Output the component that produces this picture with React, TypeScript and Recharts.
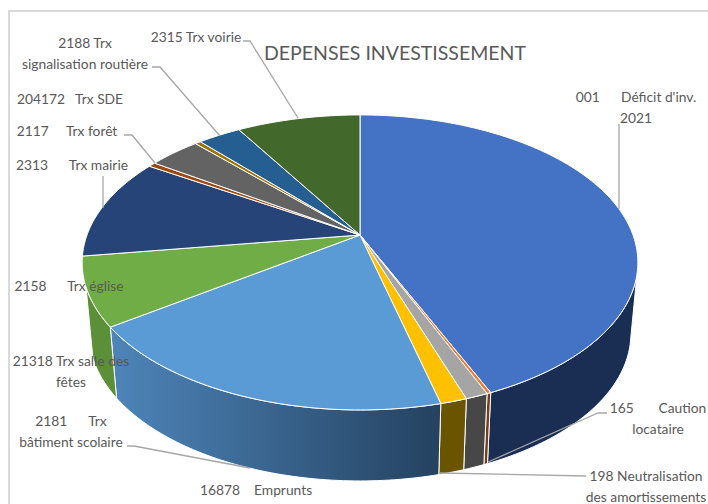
import { Pie, PieChart } from "recharts";

// slices clockwise from 12 o'clock, values in % of total
const NAMES = [
  "001 Déficit d'inv. 2021",
  "165 Caution locataire",
  "198 Neutralisation des amortissements",
  "16878 Emprunts",
  "2181 Trx bâtiment scolaire",
  "21318 Trx salle des fêtes",
  "2158 Trx église",
  "2313 Trx mairie",
  "2117 Trx forêt",
  "204172 Trx SDE",
  "2188 Trx signalisation routière",
  "2315 Trx voirie",
];
const VALUES = [43.5, 0.2, 1.1, 1.3, 19.1, 7.5, 11.2, 0.5, 3.6, 0.4, 3.0, 8.6];
const COLORS = [
  "#4472C4", "#ED7D31", "#A5A5A5", "#FFC000", "#5B9BD5", "#70AD47",
  "#264478", "#9E480E", "#636363", "#997300", "#255E91", "#43682B",
];
const WALL_FROM = [
  "#1A2D52", "#7A3D12", "#474747", "#6B5400", "#4E85BA", "#5C9038",
  "#1C3259", "#74350A", "#474747", "#6B5400", "#1B4569", "#304B1F",
];
const WALL_TO = [
  "#1A2D52", "#7A3D12", "#474747", "#6B5400", "#244260", "#5C9038",
  "#1C3259", "#74350A", "#474747", "#6B5400", "#1B4569", "#304B1F",
];

const LABEL_LINES = [
  ["001\u00a0\u00a0\u00a0\u00a0\u00a0\u00a0Déficit d'inv.", "2021"],
  ["165\u00a0\u00a0\u00a0\u00a0\u00a0\u00a0\u00a0Caution", "locataire"],
  ["198 Neutralisation", "des amortissements"],
  ["16878\u00a0\u00a0\u00a0\u00a0Emprunts"],
  ["2181\u00a0\u00a0\u00a0\u00a0\u00a0\u00a0Trx", "bâtiment scolaire"],
  ["21318 Trx salle des", "fêtes"],
  ["2158\u00a0\u00a0\u00a0\u00a0\u00a0\u00a0Trx église"],
  ["2313\u00a0\u00a0\u00a0\u00a0\u00a0\u00a0Trx mairie"],
  ["2117\u00a0\u00a0\u00a0\u00a0\u00a0Trx forêt"],
  ["204172\u00a0\u00a0\u00a0Trx SDE"],
  ["2188 Trx", "signalisation routière"],
  ["2315 Trx voirie"],
];
const LABEL_X = [636, 658, 646, 256, 71, 71, 69, 72, 67, 70, 85, 196];
const LABEL_Y = [102, 413, 481, 495, 426, 366, 291, 170, 136, 104, 48, 42];
const LEADERS = [
  "619,124 619,209",
  "607,413 598,413 488,462",
  "586,476 440,473",
  "",
  "127,446 134,446 250,468",
  "",
  "",
  "103,176 103,208",
  "124,135 132,135 155,163",
  "",
  "152,67 160,67 220,136",
  "243,41 250,41 298,118",
];

const data = NAMES.map((name, i) => ({ name, value: VALUES[i], fill: COLORS[i] }));

const TILT = 0.5216;
const PERSPECTIVE = 0.186;
const DEPTH = 71;
const BOTTOM_SCALE = 0.975;
const FRONT_FROM = -160;
const FRONT_TO = -15;
const FONT = "Lato, 'Open Sans', sans-serif";

function rim(cx: number, cy: number, r: number, deg: number) {
  const a = (deg * Math.PI) / 180;
  const w = 1 + PERSPECTIVE * Math.sin(a);
  return [cx + (r * Math.cos(a)) / w, cy - (r * TILT * Math.sin(a)) / w];
}

function sweep(from: number, to: number) {
  const out: number[] = [];
  const n = Math.max(1, Math.ceil(Math.abs(to - from)));
  for (let i = 0; i <= n; i++) out.push(from + ((to - from) * i) / n);
  return out;
}

function Slice3D(props: any) {
  const { cx, cy, outerRadius, startAngle, endAngle, fill, index } = props;
  const hi = Math.max(startAngle, endAngle);
  const lo = Math.min(startAngle, endAngle);
  const top = sweep(hi, lo).map((d) => rim(cx, cy, outerRadius, d));
  const topPath =
    `M${cx},${cy} ` + top.map((p) => `L${p[0]},${p[1]}`).join(" ") + " Z";

  const wallHi = Math.min(hi, FRONT_TO);
  const wallLo = Math.max(lo, FRONT_FROM);
  let wallPath = "";
  if (wallHi > wallLo) {
    const upper = sweep(wallHi, wallLo).map((d) => rim(cx, cy, outerRadius, d));
    const lower = [...upper]
      .reverse()
      .map((p) => [cx + (p[0] - cx) * BOTTOM_SCALE, p[1] + DEPTH]);
    wallPath =
      [...upper, ...lower].map((p, i) => `${i ? "L" : "M"}${p[0]},${p[1]}`).join(" ") + " Z";
  }
  const gradId = `wall-${index}`;
  return (
    <g>
      {wallPath && (
        <>
          <defs>
            <linearGradient id={gradId} x1="0" x2="1" y1="0" y2="0">
              <stop offset="0%" stopColor={WALL_FROM[index]} />
              <stop offset="100%" stopColor={WALL_TO[index]} />
            </linearGradient>
          </defs>
          <path d={wallPath} fill={`url(#${gradId})`} stroke="#fff" strokeWidth={1} />
        </>
      )}
      <path d={topPath} fill={fill} stroke="#fff" strokeWidth={1} strokeLinejoin="round" />
    </g>
  );
}

function SliceLabel(props: any) {
  const i = props.index;
  return (
    <g>
      {LEADERS[i] && (
        <polyline points={LEADERS[i]} fill="none" stroke="#A6A6A6" strokeWidth={1.3} />
      )}
      <text textAnchor="middle" fontFamily={FONT} fontSize={13.8} fill="#595959">
        {LABEL_LINES[i].map((line, j) => (
          <tspan key={j} x={LABEL_X[i]} y={LABEL_Y[i] + j * 21}>
            {line}
          </tspan>
        ))}
      </text>
    </g>
  );
}

export default function App() {
  return (
    <div style={{ position: "absolute", left: 0, top: 0, width: 708, height: 504, overflow: "hidden", background: "#fff" }}>
      <div style={{ position: "absolute", left: 8, top: 10, width: 800, height: 600, borderTop: "2px solid #D9D9D9", borderLeft: "2px solid #D9D9D9" }} />
      <PieChart
        width={708}
        height={504}
        margin={{ top: 0, right: 0, bottom: 0, left: 0 }}
        style={{ position: "absolute", left: 0, top: 0 }}
      >
        <text x={395} y={60} textAnchor="middle" fontFamily={FONT} fontSize={19.5} fill="#595959">
          DEPENSES INVESTISSEMENT
        </text>
        <Pie
          data={data}
          dataKey="value"
          nameKey="name"
          cx={360}
          cy={235}
          outerRadius={273}
          startAngle={90}
          endAngle={-270}
          shape={Slice3D}
          label={SliceLabel}
          labelLine={false}
          isAnimationActive={false}
        />
      </PieChart>
    </div>
  );
}
